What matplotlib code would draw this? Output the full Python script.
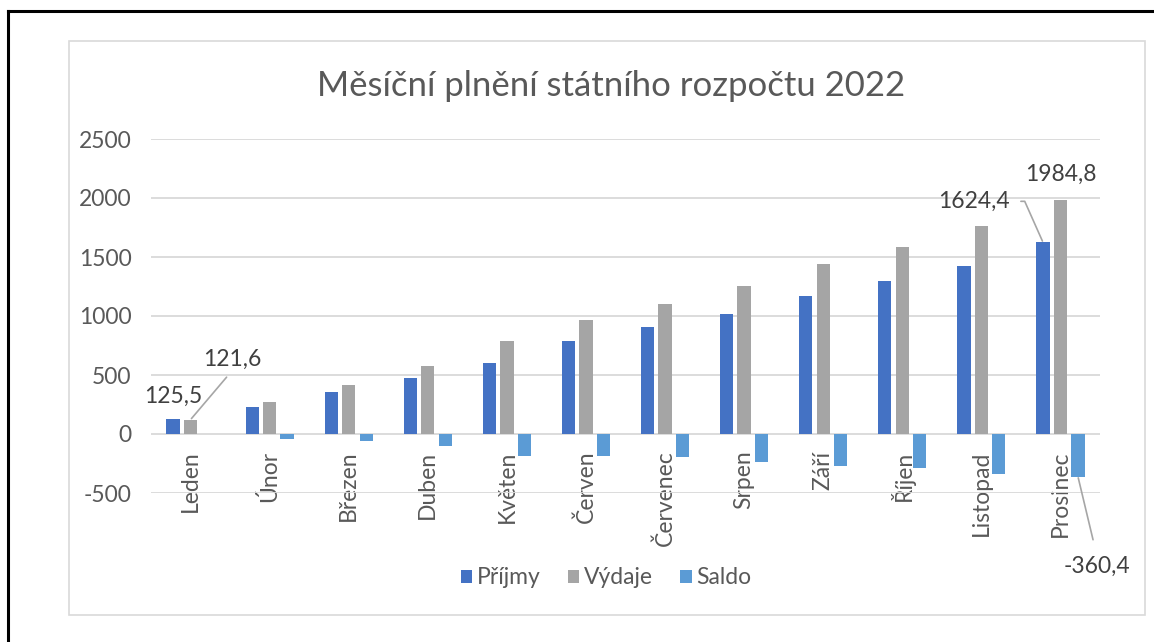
import matplotlib
matplotlib.use("Agg")
import matplotlib.pyplot as plt
import numpy as np
from matplotlib.lines import Line2D
from matplotlib.patches import Rectangle

plt.rcParams['font.family'] = ['Lato', 'DejaVu Sans']

months = ["Leden", "Únor", "Březen", "Duben", "Květen", "Červen",
          "Červenec", "Srpen", "Září", "Říjen", "Listopad", "Prosinec"]
prijmy = [125.5, 225, 352, 477, 602, 785, 909, 1020, 1166, 1293, 1420, 1624.4]
vydaje = [121.6, 268, 415, 579, 791, 969, 1102, 1254, 1437, 1585, 1759, 1984.8]
saldo = [3.9, -43, -63, -102, -189, -184, -193, -234, -271, -292, -339, -360.4]
series_names = ["Příjmy", "Výdaje", "Saldo"]
colors = ["#4472C4", "#A5A5A5", "#5B9BD5"]
yticks = [-500, 0, 500, 1000, 1500, 2000, 2500]

W, H = 1154, 642
fig = plt.figure(figsize=(W / 100, H / 100), dpi=100)
fig.patch.set_facecolor("white")

def fx(px):
    return px / W

def fy(py):
    return 1 - py / H

# outer borders (top and left black, inner gray chart frame)
fig.add_artist(Line2D([fx(8), 1], [fy(11), fy(11)], color="black", lw=2.2))
fig.add_artist(Line2D([fx(8), fx(8)], [fy(11), 0], color="black", lw=2.2))
fig.add_artist(Rectangle((fx(69), fy(615)), fx(1145) - fx(69), fy(41) - fy(615),
                         transform=fig.transFigure, fill=False, ec="#D9D9D9", lw=1.2))

ax = fig.add_axes([fx(151), fy(493), fx(1100) - fx(151), fy(139) - fy(493)])
x = np.arange(len(months))
step = 0.221
bw = 0.168
data = [prijmy, vydaje, saldo]
bars = []
for i, (vals, c, name) in enumerate(zip(data, colors, series_names)):
    b = ax.bar(x + (i - 1) * step, vals, width=bw, color=c, label=name, zorder=3)
    bars.append(b)

fs = 16.5
ax.set_xlim(-0.5, len(months) - 0.5)
ax.set_ylim(-500, 2500)
ax.set_yticks(yticks)
ax.set_yticklabels([str(v) for v in yticks])
ax.yaxis.grid(True, color="#D9D9D9", lw=1.3, zorder=0)
ax.set_axisbelow(True)
for s in ["top", "right", "left"]:
    ax.spines[s].set_visible(False)
ax.spines["bottom"].set_position(("data", 0))
ax.spines["bottom"].set_visible(False)
ax.set_xticks(x)
ax.set_xticklabels(months, rotation=90)
ax.tick_params(axis="x", length=0, pad=12, labelsize=fs, colors="#595959")
ax.tick_params(axis="y", length=0, pad=14, labelsize=fs, colors="#595959")

lab_col = "#404040"
px = 72 / 100  # points per pixel

# Leden labels
ax.annotate("125,5", (x[0] - step, prijmy[0]), xytext=(0, 23 * px),
            textcoords="offset points", ha="center", va="center",
            fontsize=fs, color=lab_col)
ax.annotate("121,6", (x[0], vydaje[0]), xytext=(42 * px, 60 * px),
            textcoords="offset points", ha="center", va="center",
            fontsize=fs, color=lab_col,
            arrowprops=dict(arrowstyle="-", color="#A6A6A6", lw=1.2,
                            relpos=(0.5, 0), shrinkA=4, shrinkB=1))
# Prosinec labels
ax.annotate("1984,8", (x[11], vydaje[11]), xytext=(0, 25 * px),
            textcoords="offset points", ha="center", va="center",
            fontsize=fs, color=lab_col)
ax.annotate("1624,4", (x[11] - step, prijmy[11]), xytext=(-69 * px, 41 * px),
            textcoords="offset points", ha="center", va="center",
            fontsize=fs, color=lab_col,
            arrowprops=dict(arrowstyle="-", color="#A6A6A6", lw=1.2,
                            relpos=(1, 0.5), shrinkA=6, shrinkB=1,
                            connectionstyle="angle,angleA=0,angleB=114,rad=0"))
ax.annotate("-360,4", (x[11] + step, saldo[11]), xytext=(19 * px, -90 * px),
            textcoords="offset points", ha="center", va="center",
            fontsize=fs, color=lab_col,
            arrowprops=dict(arrowstyle="-", color="#A6A6A6", lw=1.2,
                            relpos=(0.5, 1), shrinkA=10, shrinkB=1))

fig.text(fx(611), fy(86), "Měsíční plnění státního rozpočtu 2022",
         ha="center", va="center", fontsize=25, color="#595959")

fig.legend(handles=bars, labels=series_names, loc="center",
           bbox_to_anchor=(fx(606), fy(578)), ncol=3, frameon=False,
           fontsize=fs, handlelength=0.5, handleheight=0.5,
           handletextpad=0.2, columnspacing=1.2, labelcolor="#595959")

fig.savefig("out.png", dpi=100, facecolor="white")
